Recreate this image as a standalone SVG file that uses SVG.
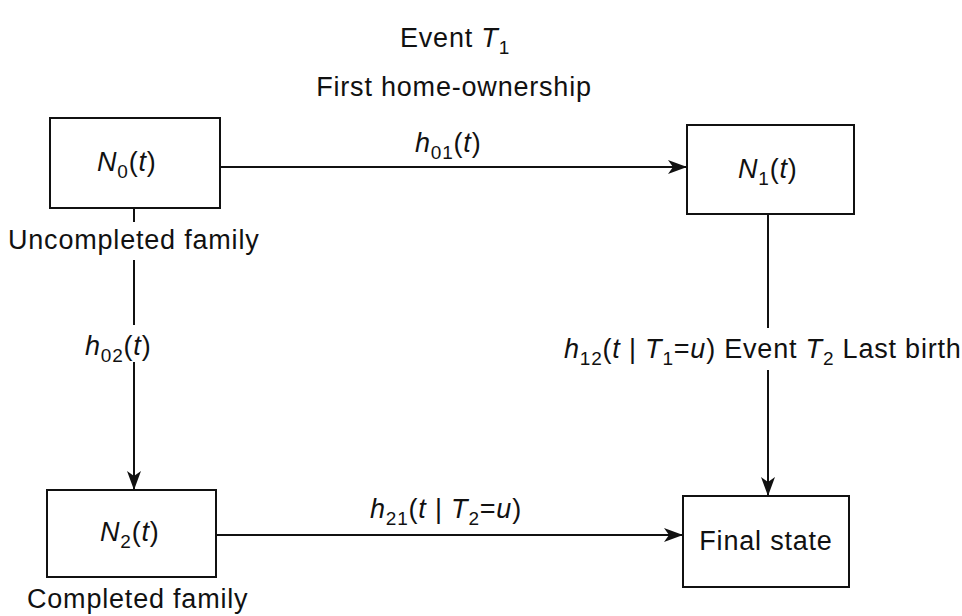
<svg xmlns="http://www.w3.org/2000/svg" width="962" height="616" viewBox="0 0 962 616">
<defs>
<style>
text{font-family:"Liberation Sans",Arial,sans-serif;font-size:27px;fill:#111;letter-spacing:0.8px}
.i{font-style:italic}
.s{font-size:19px}
.box{fill:#fff;stroke:#111;stroke-width:2}
.ln{fill:none;stroke:#111;stroke-width:2}
</style>
<marker id="ah" markerWidth="20" markerHeight="14" refX="18" refY="7" orient="auto" markerUnits="userSpaceOnUse">
<path d="M0,0 L19,7 L0,14 L5,7 z" fill="#111"/>
</marker>
</defs>
<rect width="962" height="616" fill="#fff"/>
<g id="titles">
<text x="400" y="47">Event <tspan class="i">T</tspan><tspan class="s" dy="7">1</tspan></text>
<text x="454" y="96" text-anchor="middle">First home-ownership</text>
</g>
<g id="connectors">
<path class="ln" d="M220,167 H686" marker-end="url(#ah)"/>
<path class="ln" d="M134,208 V222"/>
<path class="ln" d="M134,260 V325"/>
<path class="ln" d="M134,362 V489" marker-end="url(#ah)"/>
<path class="ln" d="M768,214 V328"/>
<path class="ln" d="M768,370 V495" marker-end="url(#ah)"/>
<path class="ln" d="M216,535 H682" marker-end="url(#ah)"/>
</g>
<g id="labels">
<text x="415" y="152"><tspan class="i">h</tspan><tspan class="s" dy="7">01</tspan><tspan dy="-7">(</tspan><tspan class="i">t</tspan>)</text>
<text x="85" y="355"><tspan class="i">h</tspan><tspan class="s" dy="7">02</tspan><tspan dy="-7">(</tspan><tspan class="i">t</tspan>)</text>
<text x="564" y="358"><tspan class="i">h</tspan><tspan class="s" dy="7">12</tspan><tspan dy="-7">(</tspan><tspan class="i">t</tspan> | <tspan class="i">T</tspan><tspan class="s" dy="7">1</tspan><tspan dy="-7">=</tspan><tspan class="i">u</tspan>) Event <tspan class="i">T</tspan><tspan class="s" dy="7">2</tspan><tspan dy="-7"> Last birth</tspan></text>
<text x="370" y="518"><tspan class="i">h</tspan><tspan class="s" dy="7">21</tspan><tspan dy="-7">(</tspan><tspan class="i">t</tspan> | <tspan class="i">T</tspan><tspan class="s" dy="7">2</tspan><tspan dy="-7">=</tspan><tspan class="i">u</tspan>)</text>
</g>
<g id="N0">
<rect class="box" x="50" y="118" width="170" height="90"/>
<text x="97" y="171"><tspan class="i">N</tspan><tspan class="s" dy="7">0</tspan><tspan dy="-7">(</tspan><tspan class="i">t</tspan>)</text>
<text x="8" y="249">Uncompleted family</text>
</g>
<g id="N1">
<rect class="box" x="687" y="125" width="167" height="89"/>
<text x="738" y="178"><tspan class="i">N</tspan><tspan class="s" dy="7">1</tspan><tspan dy="-7">(</tspan><tspan class="i">t</tspan>)</text>
</g>
<g id="N2">
<rect class="box" x="47" y="490" width="169" height="87"/>
<text x="100" y="541"><tspan class="i">N</tspan><tspan class="s" dy="7">2</tspan><tspan dy="-7">(</tspan><tspan class="i">t</tspan>)</text>
<text x="27" y="608">Completed family</text>
</g>
<g id="Final">
<rect class="box" x="683" y="496" width="166" height="91"/>
<text x="766" y="550" text-anchor="middle">Final state</text>
</g>
</svg>
